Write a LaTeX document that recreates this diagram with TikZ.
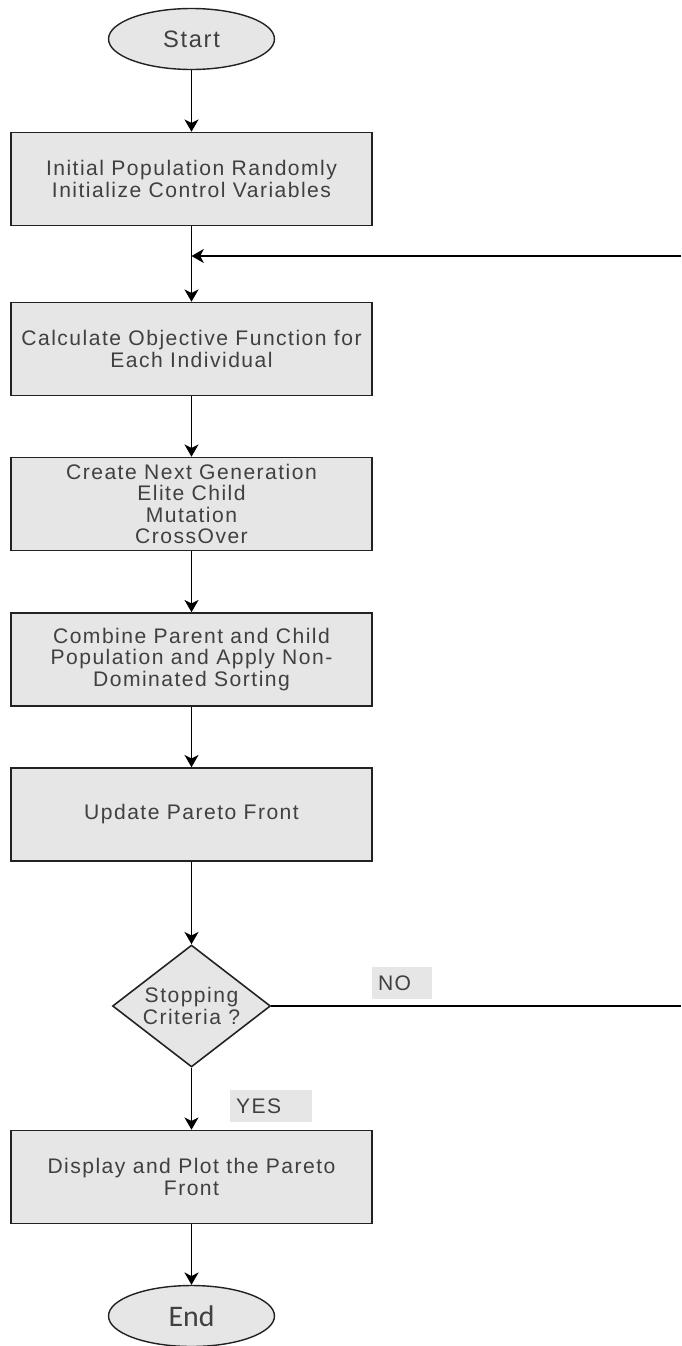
\documentclass[tikz,border=0pt]{standalone}
\usepackage{fontspec}
\setmainfont{Liberation Sans}
\newfontfamily\boxfont[LetterSpace=7]{Liberation Sans}
\newfontfamily\endfont{Carlito}
\usetikzlibrary{positioning, arrows.meta, shapes.geometric, calc}
\definecolor{boxfill}{HTML}{E6E6E6}
\definecolor{boxtext}{HTML}{404040}
\definecolor{boxline}{HTML}{222222}

\begin{document}
\begin{tikzpicture}[x=0.02cm, y=-0.02cm,
  flow/.style={-{Stealth[length=7pt, width=8pt, inset=2pt]}, line width=1pt},
  terminal/.style={ellipse, draw=boxline, line width=0.8pt, fill=boxfill, minimum width=3.32cm, minimum height=1.22cm, inner sep=0pt, text=boxtext},
  process/.style={rectangle, draw=boxline, line width=0.9pt, fill=boxfill, minimum width=7.22cm, minimum height=1.86cm, inner sep=0pt, align=center, text=boxtext, font=\boxfont\fontsize{12}{12.3}\selectfont},
  decision/.style={diamond, draw=boxline, line width=0.9pt, fill=boxfill, aspect=1.3, minimum width=3.16cm, minimum height=2.44cm, inner sep=0pt, align=center, text=boxtext, font=\boxfont\fontsize{12}{12.3}\selectfont},
  answer/.style={fill=boxfill, text=boxtext, minimum height=0.64cm, inner xsep=0.12cm, inner ysep=0pt, align=left, font=\boxfont\fontsize{12}{12.3}\selectfont}]
\useasboundingbox (0,0) rectangle (681,1346);

\node[terminal, font=\boxfont\fontsize{13.5}{15}\selectfont] (start) at (191.5,39) {Start};
\node[process] (init) at (191.5,179) {Initial Population Randomly\\Initialize Control Variables};
\node[process] (calc) at (191.5,349) {Calculate Objective Function for\\Each Individual};
\node[process] (nextgen) at (191.5,504) {Create Next Generation\\Elite Child\\Mutation\\CrossOver};
\node[process] (combine) at (191.5,659.5) {Combine Parent and Child\\Population and Apply Non-\\Dominated Sorting};
\node[process] (update) at (191.5,814.5) {Update Pareto Front};
\node[decision] (stop) at (191.5,1006) {Stopping\\Criteria ?};
\node[process] (display) at (191.5,1177) {Display and Plot the Pareto\\Front};
\node[terminal, font=\endfont\fontsize{17}{19}\selectfont] (finish) at (191.5,1316) {End};

\node[answer, text width=0.96cm] (no) at (402,983) {NO};
\node[answer, text width=1.4cm] (yes) at (271,1106) {YES};

\coordinate (join) at (191.5,256);
\coordinate (loopin) at (681,256);
\coordinate (noout) at (681,1006);

\draw[flow] (start) -- (init);
\draw[flow] (init) -- (calc);
\draw[flow] (loopin) -- (join);
\draw[flow] (calc) -- (nextgen);
\draw[flow] (nextgen) -- (combine);
\draw[flow] (combine) -- (update);
\draw[flow] (update) -- (stop);
\draw[line width=1pt] (stop) -- (noout);
\draw[flow] (stop) -- (display);
\draw[flow] (display) -- (finish);
\end{tikzpicture}
\end{document}
